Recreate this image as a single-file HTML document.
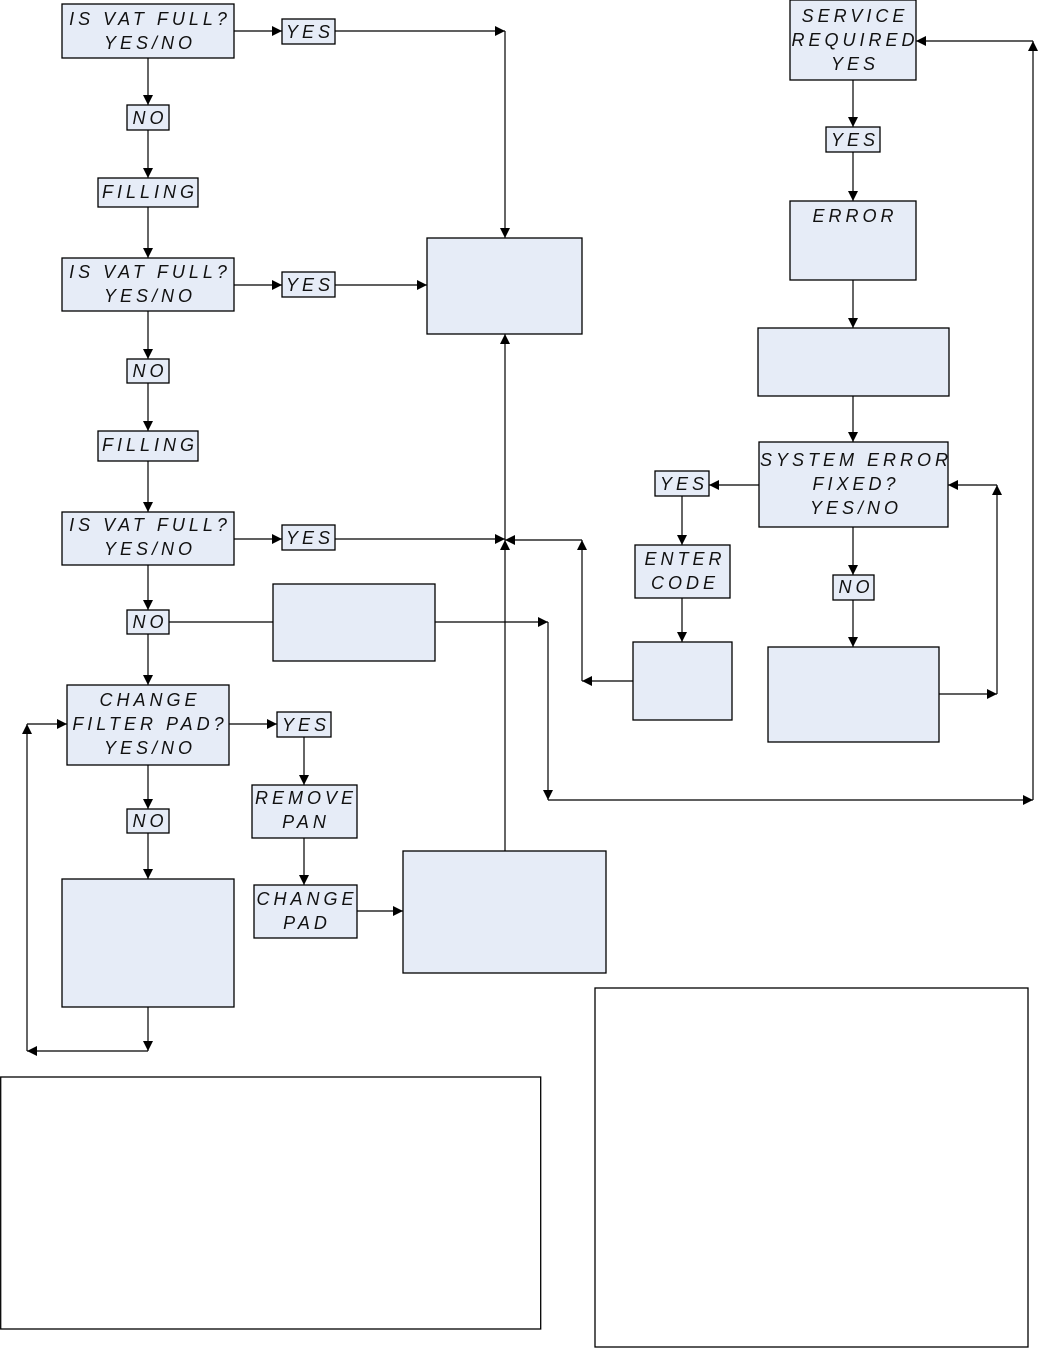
<!DOCTYPE html>
<html><head><meta charset="utf-8"><style>
html,body{margin:0;padding:0;background:#fff;}
svg{display:block;}
text{font-family:"Liberation Sans",sans-serif;font-style:italic;font-size:18px;letter-spacing:4px;fill:#111;text-anchor:middle;}
</style></head><body>
<svg width="1040" height="1348" viewBox="0 0 1040 1348" xmlns="http://www.w3.org/2000/svg">
<defs>
<marker id="a" viewBox="0 0 10 10" refX="10" refY="5" markerWidth="10" markerHeight="10" markerUnits="userSpaceOnUse" orient="auto"><path d="M0,0 L10,5 L0,10 z" fill="#000"/></marker>
</defs>
<g fill="#e6ecf7" stroke="#000" stroke-width="1.3">
<rect x="62" y="4" width="172" height="54"/>
<rect x="282" y="19" width="53" height="25"/>
<rect x="127" y="105" width="42" height="25"/>
<rect x="98" y="178" width="100" height="29"/>
<rect x="62" y="258" width="172" height="53"/>
<rect x="282" y="272" width="53" height="25"/>
<rect x="427" y="238" width="155" height="96"/>
<rect x="127" y="359" width="42" height="24"/>
<rect x="98" y="431" width="100" height="30"/>
<rect x="62" y="512" width="172" height="53"/>
<rect x="282" y="525" width="53" height="25"/>
<rect x="127" y="610" width="42" height="24"/>
<rect x="273" y="584" width="162" height="77"/>
<rect x="67" y="685" width="162" height="80"/>
<rect x="277" y="712" width="54" height="25"/>
<rect x="252" y="785" width="105" height="53"/>
<rect x="127" y="809" width="42" height="24"/>
<rect x="254" y="885" width="103" height="53"/>
<rect x="403" y="851" width="203" height="122"/>
<rect x="62" y="879" width="172" height="128"/>
<rect x="790" y="0" width="126" height="80"/>
<rect x="826" y="127" width="54" height="25"/>
<rect x="790" y="201" width="126" height="79"/>
<rect x="758" y="328" width="191" height="68"/>
<rect x="759" y="442" width="189" height="85"/>
<rect x="655" y="471" width="54" height="25"/>
<rect x="635" y="545" width="95" height="53"/>
<rect x="833" y="575" width="41" height="25"/>
<rect x="633" y="642" width="99" height="78"/>
<rect x="768" y="647" width="171" height="95"/>
</g>
<g fill="#fff" stroke="#000" stroke-width="1.3">
<rect x="0.7" y="1077" width="540" height="252"/>
<rect x="595" y="988" width="433" height="359"/>
</g>
<g stroke="#000" stroke-width="1.2" fill="none" marker-end="url(#a)">
<path d="M234,31 H282"/>
<path d="M335,31 H505"/>
<path d="M505,31 V238"/>
<path d="M148,58 V105"/>
<path d="M148,130 V178"/>
<path d="M148,207 V258"/>
<path d="M234,285 H282"/>
<path d="M335,285 H427"/>
<path d="M148,311 V359"/>
<path d="M148,383 V431"/>
<path d="M148,461 V512"/>
<path d="M234,539 H282"/>
<path d="M335,539 H505"/>
<path d="M505,851 V540"/>
<path d="M505,540 V334"/>
<path d="M582,540 H505"/>
<path d="M582,681 V540"/>
<path d="M633,681 H582"/>
<path d="M148,565 V610"/>
<path d="M148,634 V685"/>
<path d="M435,622 H548"/>
<path d="M548,622 V800"/>
<path d="M548,800 H1033"/>
<path d="M1033,800 V41"/>
<path d="M1033,41 H916"/>
<path d="M229,724 H277"/>
<path d="M304,737 V785"/>
<path d="M304,838 V885"/>
<path d="M357,911 H403"/>
<path d="M148,765 V809"/>
<path d="M148,833 V879"/>
<path d="M148,1007 V1051"/>
<path d="M148,1051 H27"/>
<path d="M27,1051 V724"/>
<path d="M27,724 H67"/>
<path d="M853,80 V127"/>
<path d="M853,152 V201"/>
<path d="M853,280 V328"/>
<path d="M853,396 V442"/>
<path d="M759,485 H709"/>
<path d="M682,496 V545"/>
<path d="M682,598 V642"/>
<path d="M853,527 V575"/>
<path d="M853,600 V647"/>
<path d="M939,694 H997"/>
<path d="M997,694 V485"/>
<path d="M997,485 H948"/>
</g>
<path d="M169,622 H273" stroke="#000" stroke-width="1.2"/>
<text x="150" y="25">IS VAT FULL?</text>
<text x="150" y="49">YES/NO</text>
<text x="310" y="38">YES</text>
<text x="150" y="124">NO</text>
<text x="150" y="198">FILLING</text>
<text x="150" y="278">IS VAT FULL?</text>
<text x="150" y="302">YES/NO</text>
<text x="310" y="291">YES</text>
<text x="150" y="377">NO</text>
<text x="150" y="451">FILLING</text>
<text x="150" y="531">IS VAT FULL?</text>
<text x="150" y="555">YES/NO</text>
<text x="310" y="544">YES</text>
<text x="150" y="628">NO</text>
<text x="150" y="706">CHANGE</text>
<text x="150" y="730">FILTER PAD?</text>
<text x="150" y="754">YES/NO</text>
<text x="306" y="731">YES</text>
<text x="306" y="804">REMOVE</text>
<text x="306" y="828">PAN</text>
<text x="150" y="827">NO</text>
<text x="307" y="905">CHANGE</text>
<text x="307" y="929">PAD</text>
<text x="855" y="22">SERVICE</text>
<text x="855" y="46">REQUIRED</text>
<text x="855" y="70">YES</text>
<text x="855" y="146">YES</text>
<text x="855" y="222">ERROR</text>
<text x="856" y="466">SYSTEM ERROR</text>
<text x="856" y="490">FIXED?</text>
<text x="856" y="514">YES/NO</text>
<text x="684" y="490">YES</text>
<text x="685" y="565">ENTER</text>
<text x="685" y="589">CODE</text>
<text x="856" y="593">NO</text>
</svg>
</body></html>
